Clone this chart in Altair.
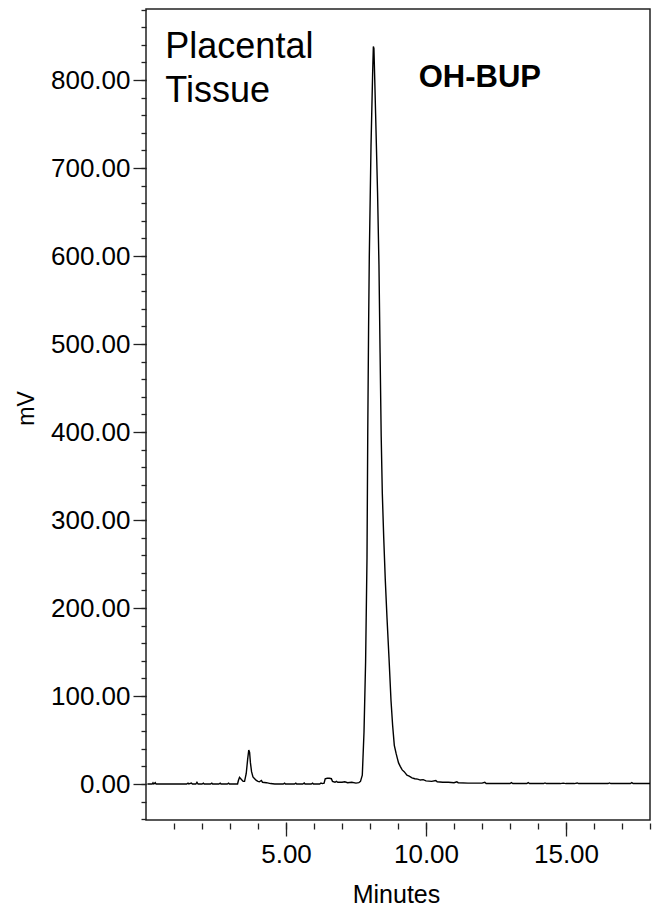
import altair as alt
import pandas as pd

# Chromatogram trace (minutes, mV)
minutes = [0.05, 0.22, 0.25, 0.28, 0.33, 0.36, 1.45, 1.5, 1.53, 1.62, 1.66, 1.78, 1.82, 1.86,
           2.0, 2.05, 2.08, 2.3, 2.35, 2.38, 2.6, 2.65, 2.68, 2.9, 2.95, 2.98, 3.27,
           3.30, 3.34, 3.40, 3.47, 3.52, 3.58, 3.63, 3.67, 3.70, 3.73, 3.77, 3.82, 3.88, 3.94,
           4.0, 4.05, 4.12, 4.16, 4.3, 4.45, 4.6,
           4.9, 4.95, 4.98, 5.3, 5.35, 5.38, 5.6, 5.65, 5.68, 5.9, 5.95, 5.98, 6.2, 6.25, 6.3,
           6.36, 6.40, 6.47, 6.55, 6.62, 6.66, 6.75, 6.8, 6.85, 7.0, 7.1, 7.2, 7.35, 7.5, 7.6,
           7.66, 7.725, 7.786, 7.843, 7.893, 7.92, 7.95, 7.975, 8.036, 8.093, 8.12, 8.14, 8.17,
           8.20, 8.27, 8.32, 8.36, 8.40, 8.44, 8.49, 8.546, 8.607, 8.679, 8.75, 8.807, 8.868,
           8.93, 8.97, 9.02, 9.08, 9.15, 9.22, 9.32, 9.4, 9.5, 9.6, 9.7, 9.8, 9.9, 10.0, 10.2,
           10.35, 10.4, 10.6, 10.8, 11.0, 11.1, 11.15, 11.5, 12.0, 12.1, 12.15, 12.5, 13.0,
           13.05, 13.1, 13.6, 13.65, 13.7, 14.2, 14.25, 14.3, 14.8, 14.9, 15.0, 15.3, 15.4,
           15.45, 16.0, 16.5, 16.55, 16.6, 17.3, 17.35, 17.4, 18.0]
millivolts = [0, 0, 1.5, 0, 1.5, 0, 0, 1, 0, 1, 0, 0, 2, 0,
              0, 1, 0, 0, 1, 0, 0, 1, 0, 0, 1, 0, 0,
              4, 7.6, 5.5, 3, 3, 12, 28, 38.6, 36, 24, 14, 8, 6, 4,
              3, 2.5, 4, 2, 1.5, 0.5, 0,
              0, 1, 0, 0, 1, 0, 0, 1.2, 0, 0, 1, 0, 0, 1, 0.5,
              1, 6, 6.5, 6.5, 6, 3, 2, 3, 2, 2, 2.5, 1.5, 2, 1, 1.5,
              3, 10, 59, 139, 257, 400, 520, 599, 725, 806, 838, 836, 800,
              762, 672, 590, 490, 395, 330, 280, 232, 189, 143, 95, 67, 44,
              35, 30, 24, 20, 16, 14, 10, 9, 7, 6, 5.5, 4.5, 5, 3.5, 3,
              4, 2.5, 2, 2, 1.5, 2.5, 1.5, 1, 1, 2, 0.5, 0.5, 0.5,
              1.5, 0.5, 0.5, 1.5, 0.5, 0.5, 1.2, 0.5, 0.5, 1, 0.5, 0.5, 1.2,
              0.5, 0.5, 0.5, 1.2, 0.5, 0.5, 1.5, 0.5, 0.5]

# Axis tick values
x_major = [5, 10, 15]
x_minor = [1, 2, 3, 4, 5, 6, 7, 8, 9, 10, 11, 12, 13, 14, 15, 16, 17, 18]
y_major = [0, 100, 200, 300, 400, 500, 600, 700, 800]
y_minor = list(range(-40, 881, 20))

# Annotations (data coordinates)
ann_big_text = ["Placental", "Tissue"]
ann_big_x = [0.69, 0.69]
ann_big_y = [824.7, 775.3]
ann_bold_text = ["OH-BUP"]
ann_bold_x = [9.74]
ann_bold_y = [792.4]

FONT = "Liberation Sans"

df = pd.DataFrame({"t": minutes, "v": millivolts})
df_big = pd.DataFrame({"t": ann_big_x, "v": ann_big_y, "label": ann_big_text})
df_bold = pd.DataFrame({"t": ann_bold_x, "v": ann_bold_y, "label": ann_bold_text})

x_scale = alt.Scale(domain=[0, 18], nice=False, zero=False)
y_scale = alt.Scale(domain=[-40.9, 880.7], nice=False, zero=False)

minor = alt.Chart(df).mark_line(opacity=0).encode(
    x=alt.X("t:Q", scale=x_scale,
            axis=alt.Axis(values=x_minor, labels=False, title=None, tickSize=6, offset=3,
                          domain=False, grid=False, orient="bottom",
                          tickColor="#222", tickWidth=1.3)),
    y=alt.Y("v:Q", scale=y_scale,
            axis=alt.Axis(values=y_minor, labels=False, title=None, tickSize=5,
                          domain=False, grid=False, orient="left",
                          tickColor="#222", tickWidth=1.3)),
)

line = alt.Chart(df).mark_line(color="black", strokeWidth=1.4).encode(
    x=alt.X("t:Q", scale=x_scale,
            axis=alt.Axis(values=x_major, format=".2f", title="Minutes", tickSize=14, offset=2,
                          domain=False, grid=False, orient="bottom",
                          tickColor="#222", tickWidth=1.3,
                          labelFont=FONT, labelFontSize=26, labelColor="black",
                          labelBaseline="alphabetic", labelPadding=26,
                          titleFont=FONT, titleFontSize=25, titleFontWeight="normal",
                          titleColor="black", titleX=250, titleY=80,
                          titleBaseline="alphabetic", titleAlign="center")),
    y=alt.Y("v:Q", scale=y_scale,
            axis=alt.Axis(values=y_major, format=".2f", title="mV", tickSize=13,
                          domain=False, grid=False, orient="left",
                          tickColor="#222", tickWidth=1.3,
                          labelFont=FONT, labelFontSize=26, labelColor="black",
                          labelPadding=3,
                          titleFont=FONT, titleFontSize=23, titleFontWeight="normal",
                          titleColor="black", titleX=-113, titleY=399, titleAngle=270,
                          titleBaseline="alphabetic", titleAlign="center")),
)

big_text = alt.Chart(df_big).mark_text(
    font=FONT, fontSize=36, align="left", baseline="alphabetic", color="black"
).encode(
    x=alt.X("t:Q", scale=x_scale, axis=None),
    y=alt.Y("v:Q", scale=y_scale, axis=None),
    text="label:N",
)

bold_text = alt.Chart(df_bold).mark_text(
    font=FONT, fontSize=31, fontWeight="bold", align="left", baseline="alphabetic", color="black"
).encode(
    x=alt.X("t:Q", scale=x_scale, axis=None),
    y=alt.Y("v:Q", scale=y_scale, axis=None),
    text="label:N",
)

chart = alt.layer(minor, line, big_text, bold_text).resolve_axis(
    x="independent", y="independent"
).properties(
    width=504,
    height=811,
    autosize=alt.AutoSizeParams(type="none"),
    padding={"left": 138, "top": 1, "right": 6, "bottom": 88},
    background="white",
).configure_view(
    stroke="#222", strokeWidth=1.5
)

chart.save("out.html", embed_options={"renderer": "svg", "actions": False})
